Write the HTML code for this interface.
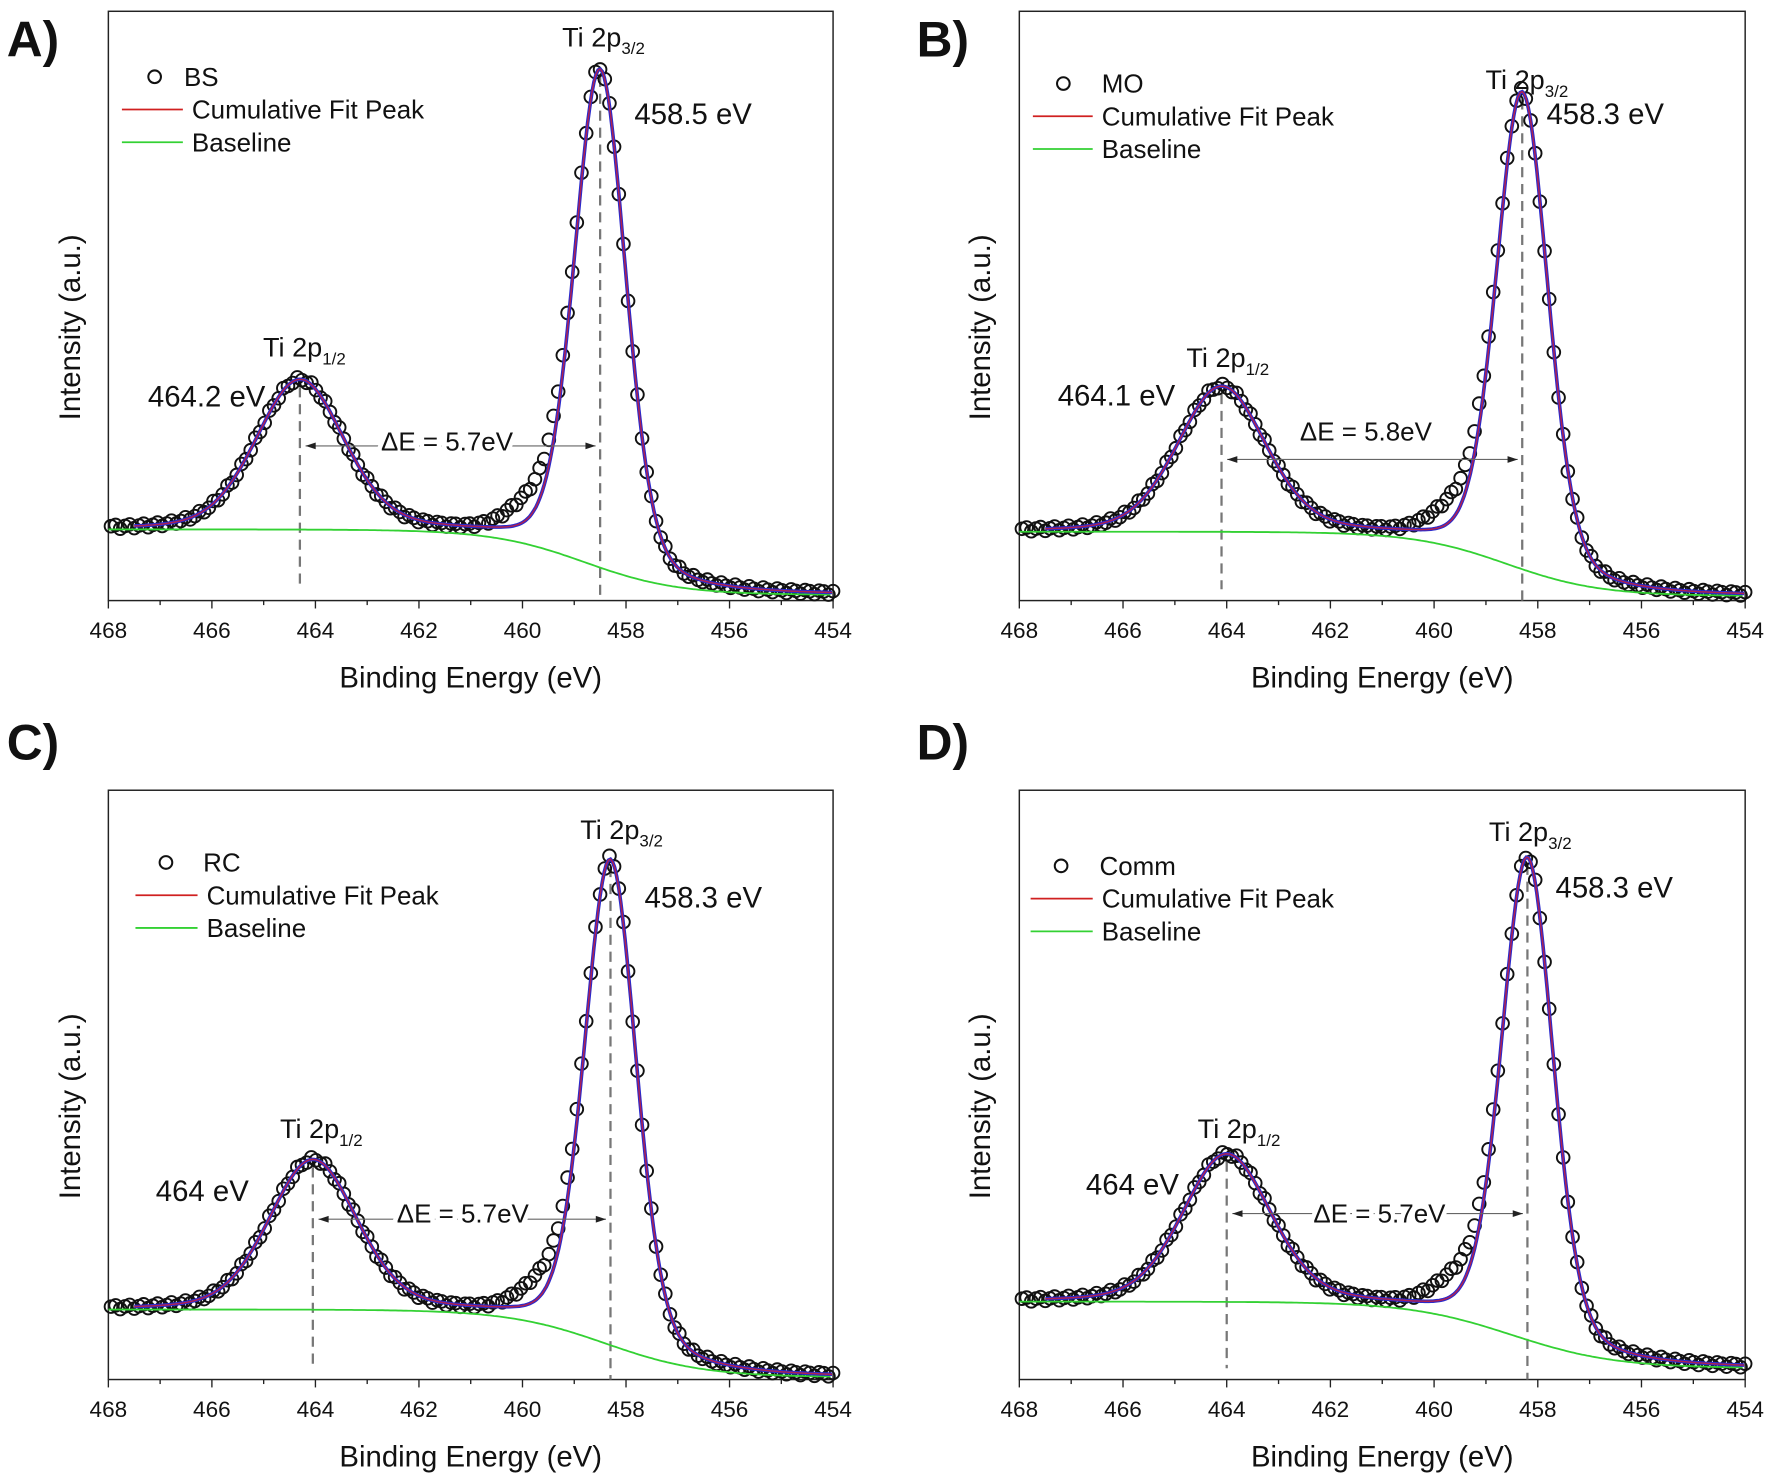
<!DOCTYPE html>
<html><head><meta charset="utf-8"><style>
html,body{margin:0;padding:0;background:#fff;}
svg{display:block}
text{font-family:"Liberation Sans",Arial,sans-serif;fill:#111}
</style></head><body>
<svg id="s" width="1770" height="1480" viewBox="0 0 1568 1311" preserveAspectRatio="none" xmlns="http://www.w3.org/2000/svg"></svg>
<script>
const S=document.getElementById('s');let h='';
const P=[
 {L:96,R:738,T:10,B:532,lab:'A)',lx:6,ly:50,name:'BS',
  c1:464.3,s1:0.85,y1:337,c2:458.5,s2:0.5,y2:62,yL:469,yR:527,bc:458.8,bw:0.9,bump:26,bcn:459.75,
  legC:[137,68],legT:163,legL:[108,162],legY:[97,126],
  t32:[498,41],e32:[562,110,'458.5 eV'],t12:[233,316],e12:[131,360,'464.2 eV'],
  arrowY:395,dE:[396,399],yl:[62,290]},
 {L:903,R:1546,T:10,B:532,lab:'B)',lx:812,ly:50,name:'MO',
  c1:464.1,s1:0.85,y1:343,c2:458.3,s2:0.5,y2:82,yL:471,yR:528,bc:458.6,bw:0.9,bump:24,bcn:459.55,
  legC:[942,74],legT:976,legL:[915,968],legY:[103,132],
  t32:[1316,79],e32:[1370,110,'458.3 eV'],t12:[1051,325],e12:[937,359,'464.1 eV'],
  arrowY:407,dE:[1210,390],yl:[868,290]},
 {L:96,R:738,T:700,B:1222,lab:'C)',lx:6,ly:673,name:'RC',
  c1:464.05,s1:0.85,y1:1028,c2:458.3,s2:0.5,y2:762,yL:1160,yR:1220,bc:458.4,bw:0.95,bump:24,bcn:459.55,
  legC:[147,764],legT:180,legL:[120,175],legY:[793,822],
  t32:[514,743],e32:[571,804,'458.3 eV'],t12:[248,1008],e12:[138,1064,'464 eV'],
  arrowY:1080,dE:[410,1083],yl:[62,980]},
 {L:903,R:1546,T:700,B:1222,lab:'D)',lx:812,ly:673,name:'Comm',
  c1:464.0,s1:0.85,y1:1023,c2:458.2,s2:0.5,y2:760,yL:1153,yR:1212,bc:458.5,bw:1.0,bump:24,bcn:459.5,
  legC:[940,767],legT:974,legL:[913,968],legY:[796,825],
  t32:[1319,745],e32:[1378,795,'458.3 eV'],t12:[1061,1008],e12:[962,1058,'464 eV'],
  arrowY:1075,dE:[1222,1083],yl:[868,980]}
];
for(const p of P){
 const X=E=>p.L+(468-E)/14*(p.R-p.L);
 const base=E=>p.yL+(p.yR-p.yL)/(1+Math.exp(-(p.bc-E)/p.bw));
 const bL=base(p.c1),bR=base(p.c2);
 const A1=bL-p.y1,A2=bR-p.y2;
 const g=(E,c,s)=>{const u=(E-c)/s;return 0.78*Math.exp(-0.5*u*u)+0.22/(1+(u/1.177)**2);};
 const gg=(E,c,s)=>Math.exp(-0.5*((E-c)/s)**2);
 const fit=E=>base(E)-A1*g(E,p.c1,p.s1)-A2*g(E,p.c2,p.s2);
 const data=E=>fit(E)-p.bump*gg(E,p.bcn,0.5)+2*Math.sin(E*23);
 h+=`<rect x="${p.L}" y="${p.T}" width="${p.R-p.L}" height="${p.B-p.T}" fill="none" stroke="#222" stroke-width="1.3"/>`;
 for(let E=468;E>=454;E--){const x=X(E);const maj=E%2==0;
  h+=`<line x1="${x}" y1="${p.B}" x2="${x}" y2="${p.B+(maj?7:4)}" stroke="#222" stroke-width="1.2"/>`;
  if(maj)h+=`<text x="${x}" y="${p.B+33}" font-size="20" text-anchor="middle">${E}</text>`;}
 h+=`<text x="${(p.L+p.R)/2}" y="${p.B+77}" font-size="26" text-anchor="middle">Binding Energy (eV)</text>`;
 h+=`<text transform="translate(${p.yl[0]+9},${p.yl[1]}) rotate(-90)" font-size="26" text-anchor="middle">Intensity (a.u.)</text>`;
 h+=`<text x="${p.lx}" y="${p.ly}" font-size="44" font-weight="bold">${p.lab}</text>`;
 let d='';for(let E=468;E>=454;E-=0.05)d+=(d?'L':'M')+X(E).toFixed(1)+','+base(E).toFixed(1);
 h+=`<line x1="${X(p.c1)}" y1="${p.y1+6}" x2="${X(p.c1)}" y2="${p.B-10}" stroke="#777" stroke-width="2" stroke-dasharray="9,6"/>`;
 h+=`<line x1="${X(p.c2)}" y1="${p.y2+6}" x2="${X(p.c2)}" y2="${p.B}" stroke="#777" stroke-width="2" stroke-dasharray="9,6"/>`;
 for(let E=467.95;E>=454;E-=0.09){h+=`<circle cx="${X(E).toFixed(1)}" cy="${data(E).toFixed(1)}" r="5.6" fill="none" stroke="#111" stroke-width="1.7"/>`;}
 h+=`<path d="${d}" fill="none" stroke="#33d133" stroke-width="1.6"/>`;
 let f='';for(let E=467.5;E>=454;E-=0.04)f+=(f?'L':'M')+X(E).toFixed(1)+','+fit(E).toFixed(1);
 h+=`<path d="${f}" fill="none" stroke="#2a2acc" stroke-width="3.2"/>`;
 h+=`<path d="${f}" fill="none" stroke="#c8203a" stroke-width="1.3" opacity="0.85"/>`;
 const ax1=X(p.c1)+5,ax2=X(p.c2)-4,ay=p.arrowY;
 h+=`<line x1="${ax1}" y1="${ay}" x2="${ax2}" y2="${ay}" stroke="#666" stroke-width="1"/>`;
 h+=`<path d="M${ax1},${ay}l9,-3v6z M${ax2},${ay}l-9,-3v6z" fill="#222"/>`;
 h+=`<text x="${p.dE[0]}" y="${p.dE[1]}" font-size="23" text-anchor="middle" style="paint-order:stroke" stroke="#fff" stroke-width="8">ΔE = ${p.lab=='B)'?'5.8':'5.7'}eV</text>`;
 h+=`<text x="${p.t32[0]}" y="${p.t32[1]}" font-size="24">Ti 2p<tspan font-size="15" dy="7">3/2</tspan></text>`;
 h+=`<text x="${p.t12[0]}" y="${p.t12[1]}" font-size="24">Ti 2p<tspan font-size="15" dy="7">1/2</tspan></text>`;
 h+=`<text x="${p.e32[0]}" y="${p.e32[1]}" font-size="26">${p.e32[2]}</text>`;
 h+=`<text x="${p.e12[0]}" y="${p.e12[1]}" font-size="26">${p.e12[2]}</text>`;
 h+=`<circle cx="${p.legC[0]}" cy="${p.legC[1]}" r="5.6" fill="none" stroke="#111" stroke-width="1.8"/>`;
 h+=`<text x="${p.legT}" y="${p.legC[1]+8}" font-size="23">${p.name}</text>`;
 h+=`<line x1="${p.legL[0]}" y1="${p.legY[0]}" x2="${p.legL[1]}" y2="${p.legY[0]}" stroke="#d02020" stroke-width="1.6"/>`;
 h+=`<text x="${p.legL[1]+8}" y="${p.legY[0]+8}" font-size="23">Cumulative Fit Peak</text>`;
 h+=`<line x1="${p.legL[0]}" y1="${p.legY[1]}" x2="${p.legL[1]}" y2="${p.legY[1]}" stroke="#33d133" stroke-width="1.6"/>`;
 h+=`<text x="${p.legL[1]+8}" y="${p.legY[1]+8}" font-size="23">Baseline</text>`;
}
S.innerHTML=h;
</script>
</body></html>
